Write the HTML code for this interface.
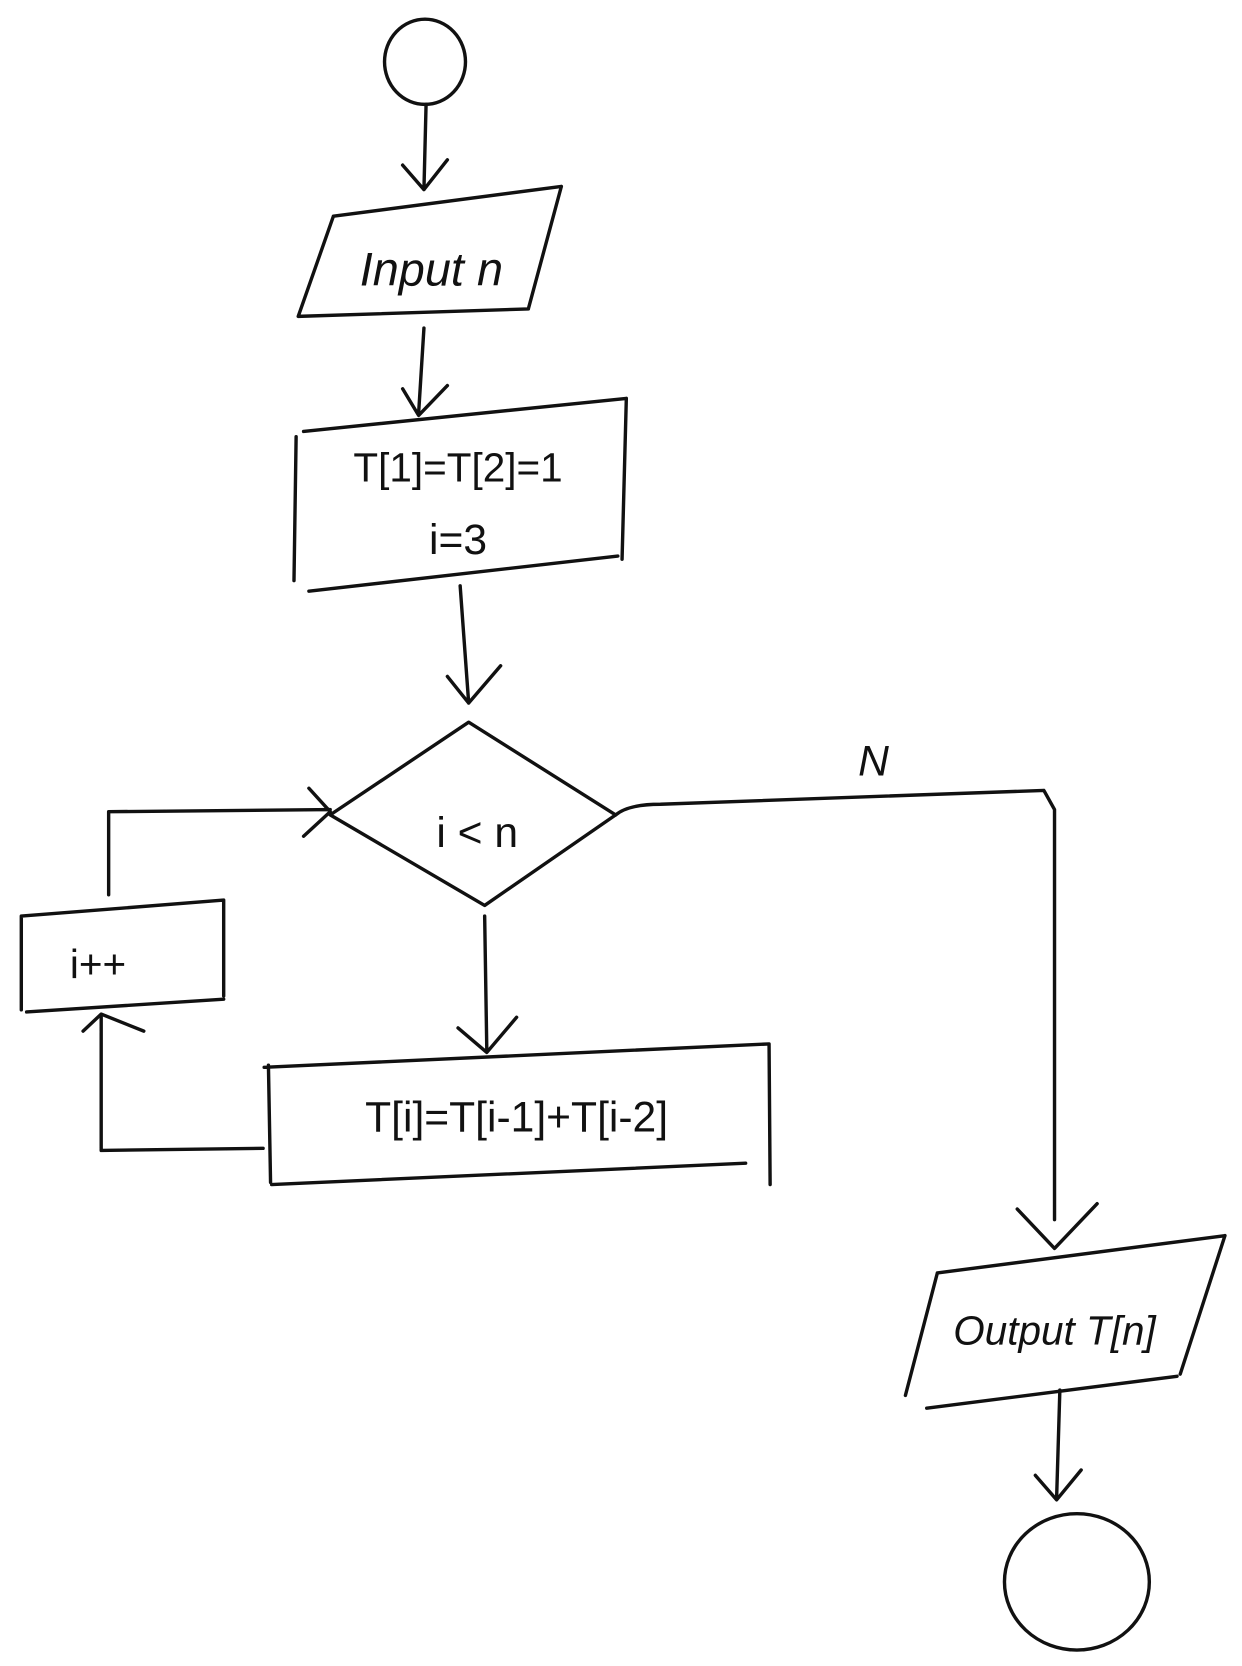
<!DOCTYPE html>
<html><head><meta charset="utf-8"><style>
html,body{margin:0;padding:0;background:#fff;}
svg{display:block;}
text{font-family:"Liberation Sans",sans-serif;fill:#111;}
</style></head><body>
<svg width="1242" height="1666" viewBox="0 0 1166 1564" preserveAspectRatio="none" xmlns="http://www.w3.org/2000/svg">
<g fill="none" stroke="#111" stroke-width="3.2" stroke-linecap="round" stroke-linejoin="round">
<ellipse cx="399" cy="58" rx="38" ry="40"/>
<path d="M400 98 L398 178 M378 155 L398 178 L420 150"/>
<path d="M313 203 L527 175 M313 203 L280 297 M527 175 L496 290 M280 297 L496 290"/>
<path d="M398 308 L393 388 M378 365 L393 390 L420 362"/>
<path d="M285 405 L588 374 M278 410 L276 545 M588 374 L584 525 M290 555 L580 522"/>
<path d="M432 550 L440 660 M420 635 L440 660 L470 625"/>
<path d="M440 678 L578 765 L455 850 L310 765 Z"/>
<path d="M578 765 Q590 755 620 755 L980 742 L990 760 L990 1145 M955 1135 L990 1172 L1030 1130"/>
<path d="M880 1195 L1150 1160 M880 1195 L850 1310 M1150 1160 L1108 1290 M870 1322 L1105 1292"/>
<path d="M995 1305 L992 1405 M972 1385 L992 1408 L1015 1380"/>
<ellipse cx="1011" cy="1485" rx="68" ry="64"/>
<path d="M455 860 L457 985 M430 965 L457 988 L485 955"/>
<path d="M248 1002 L722 980 M252 1000 L254 1110 M722 980 L723 1112 M255 1112 L700 1092"/>
<path d="M247 1078 L95 1080 L95 955 M78 968 L95 952 L135 968"/>
<path d="M20 860 L210 845 M20 860 L20 948 M210 845 L210 935 M25 950 L210 938"/>
<path d="M102 840 L102 762 L310 760 M290 740 L310 762 L285 785"/>
</g>
<text x="405" y="268" font-size="44" text-anchor="middle" font-style="italic">Input n</text>
<text x="430" y="452" font-size="38" text-anchor="middle">T[1]=T[2]=1</text>
<text x="430" y="520" font-size="40" text-anchor="middle">i=3</text>
<text x="448" y="795" font-size="40" text-anchor="middle">i &lt; n</text>
<text x="820" y="728" font-size="40" text-anchor="middle" font-style="italic">N</text>
<text x="92" y="918" font-size="38" text-anchor="middle">i++</text>
<text x="485" y="1062" font-size="40" text-anchor="middle">T[i]=T[i-1]+T[i-2]</text>
<text x="990" y="1262" font-size="38" text-anchor="middle" font-style="italic">Output T[n]</text>
</svg>
</body></html>
